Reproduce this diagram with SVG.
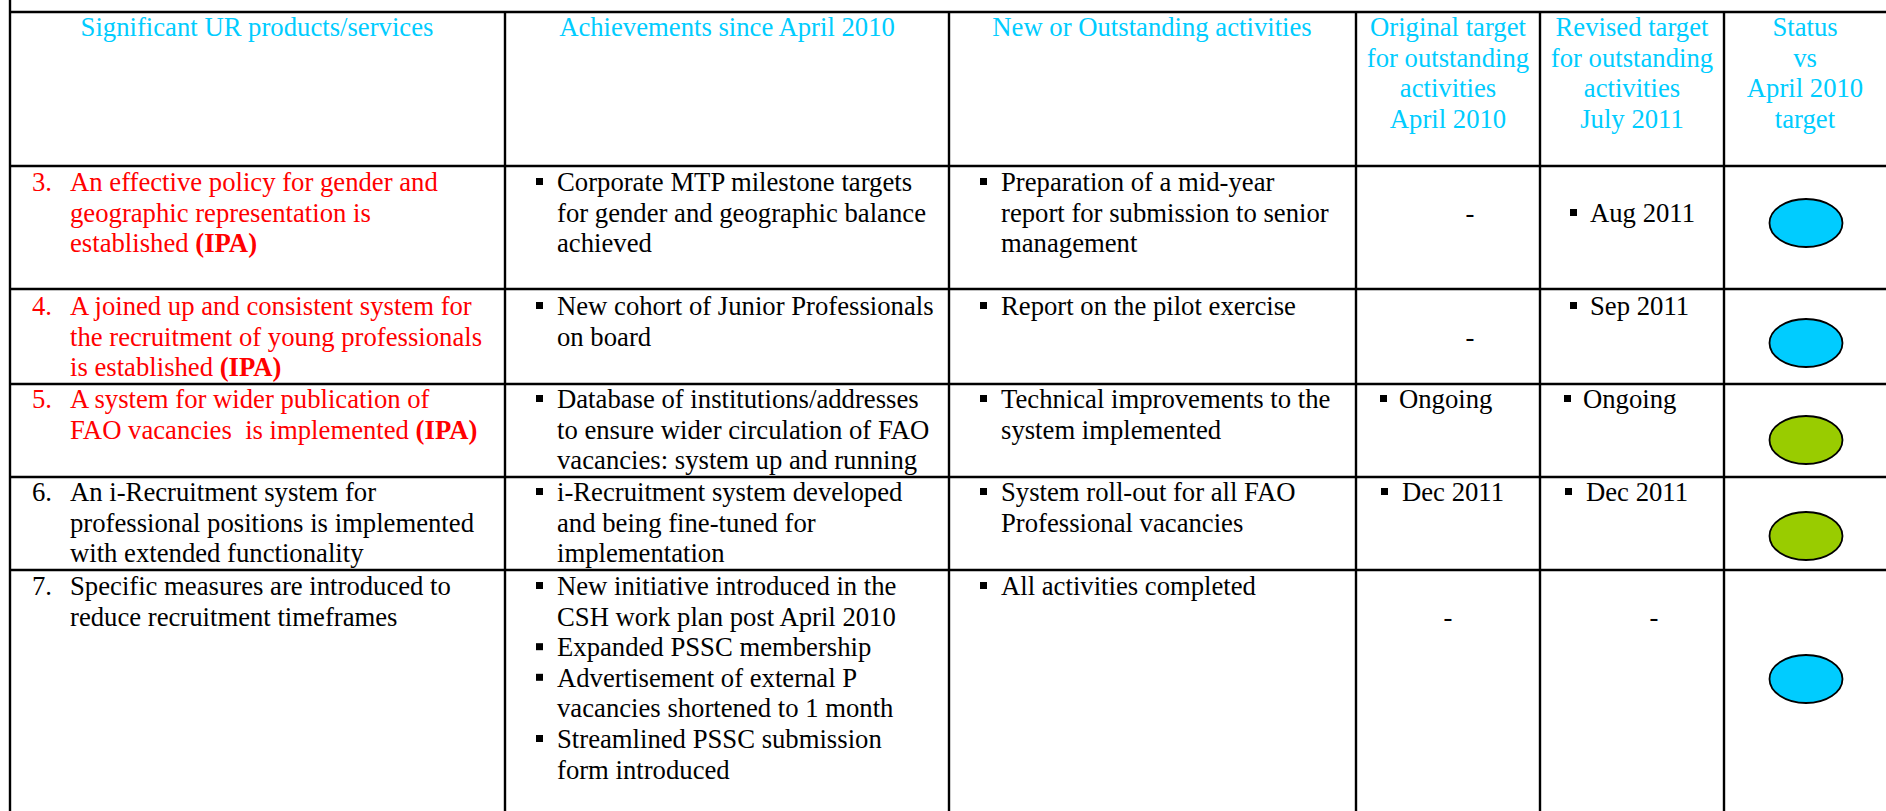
<svg xmlns="http://www.w3.org/2000/svg" width="1886" height="811" viewBox="0 0 1886 811">
<style>
text{font-family:"Liberation Serif","Times New Roman",serif;font-size:26.7px;fill:#000}
.h{fill:#00CCFF;text-anchor:middle}
.r{fill:#FF0000}
.b{font-weight:bold}
.m{text-anchor:middle}
.ln{stroke:#000;stroke-width:2.4;fill:none}
.blue{fill:#00CCFF;stroke:#000;stroke-width:1.8}
.green{fill:#99CC00;stroke:#000;stroke-width:1.8}
</style>
<defs>
<rect id="bul" x="0" y="-13" width="7" height="7" fill="#000"/>
</defs>
<rect width="1886" height="811" fill="#fff"/>
<g id="grid">
<line class="ln" x1="10" y1="0" x2="10" y2="811"/>
<line class="ln" x1="505" y1="12" x2="505" y2="811"/>
<line class="ln" x1="949" y1="12" x2="949" y2="811"/>
<line class="ln" x1="1356" y1="12" x2="1356" y2="811"/>
<line class="ln" x1="1540" y1="12" x2="1540" y2="811"/>
<line class="ln" x1="1724" y1="12" x2="1724" y2="811"/>
<line class="ln" x1="10" y1="12" x2="1886" y2="12"/>
<line class="ln" x1="10" y1="166" x2="1886" y2="166"/>
<line class="ln" x1="10" y1="289" x2="1886" y2="289"/>
<line class="ln" x1="10" y1="384" x2="1886" y2="384"/>
<line class="ln" x1="10" y1="477" x2="1886" y2="477"/>
<line class="ln" x1="10" y1="570" x2="1886" y2="570"/>
</g>
<g id="header">
<text class="h" x="257" y="36">Significant UR products/services</text>
<text class="h" x="727" y="36">Achievements since April 2010</text>
<text class="h" x="1152" y="36">New or Outstanding activities</text>
<text class="h" x="1448" y="36">Original target</text>
<text class="h" x="1448" y="66.6">for outstanding</text>
<text class="h" x="1448" y="97.2">activities</text>
<text class="h" x="1448" y="127.8">April 2010</text>
<text class="h" x="1632" y="36">Revised target</text>
<text class="h" x="1632" y="66.6">for outstanding</text>
<text class="h" x="1632" y="97.2">activities</text>
<text class="h" x="1632" y="127.8">July 2011</text>
<text class="h" x="1805" y="36">Status</text>
<text class="h" x="1805" y="66.6">vs</text>
<text class="h" x="1805" y="97.2">April 2010</text>
<text class="h" x="1805" y="127.8">target</text>
</g>
<g id="row3">
<text class="r" x="32" y="191">3.</text>
<text class="r" x="70" y="191">An effective policy for gender and</text>
<text class="r" x="70" y="221.6">geographic representation is</text>
<text class="r" x="70" y="252.2">established <tspan class="b">(IPA)</tspan></text>
<use href="#bul" x="536" y="191"/>
<text x="557" y="191">Corporate MTP milestone targets</text>
<text x="557" y="221.6">for gender and geographic balance</text>
<text x="557" y="252.2">achieved</text>
<use href="#bul" x="980" y="191"/>
<text x="1001" y="191">Preparation of a mid-year</text>
<text x="1001" y="221.6">report for submission to senior</text>
<text x="1001" y="252.2">management</text>
<text class="m" x="1470" y="222">-</text>
<use href="#bul" x="1570" y="222"/>
<text x="1590" y="222">Aug 2011</text>
<ellipse class="blue" cx="1806" cy="223" rx="36.5" ry="24"/>
</g>
<g id="row4">
<text class="r" x="32" y="315">4.</text>
<text class="r" x="70" y="315">A joined up and consistent system for</text>
<text class="r" x="70" y="345.6">the recruitment of young professionals</text>
<text class="r" x="70" y="376.2">is established <tspan class="b">(IPA)</tspan></text>
<use href="#bul" x="536" y="315"/>
<text x="557" y="315">New cohort of Junior Professionals</text>
<text x="557" y="345.6">on board</text>
<use href="#bul" x="980" y="315"/>
<text x="1001" y="315">Report on the pilot exercise</text>
<text class="m" x="1470" y="346">-</text>
<use href="#bul" x="1570" y="315"/>
<text x="1590" y="315">Sep 2011</text>
<ellipse class="blue" cx="1806" cy="343" rx="36.5" ry="24"/>
</g>
<g id="row5">
<text class="r" x="32" y="408">5.</text>
<text class="r" x="70" y="408">A system for wider publication of</text>
<text class="r" x="70" y="438.6" xml:space="preserve">FAO vacancies  is implemented <tspan class="b">(IPA)</tspan></text>
<use href="#bul" x="536" y="408"/>
<text x="557" y="408">Database of institutions/addresses</text>
<text x="557" y="438.6">to ensure wider circulation of FAO</text>
<text x="557" y="469.2">vacancies: system up and running</text>
<use href="#bul" x="980" y="408"/>
<text x="1001" y="408">Technical improvements to the</text>
<text x="1001" y="438.6">system implemented</text>
<use href="#bul" x="1380" y="408"/>
<text x="1399" y="408">Ongoing</text>
<use href="#bul" x="1564" y="408"/>
<text x="1583" y="408">Ongoing</text>
<ellipse class="green" cx="1806" cy="440" rx="36.5" ry="24"/>
</g>
<g id="row6">
<text x="32" y="501">6.</text>
<text x="70" y="501">An i-Recruitment system for</text>
<text x="70" y="531.6">professional positions is implemented</text>
<text x="70" y="562.2">with extended functionality</text>
<use href="#bul" x="536" y="501"/>
<text x="557" y="501">i-Recruitment system developed</text>
<text x="557" y="531.6">and being fine-tuned for</text>
<text x="557" y="562.2">implementation</text>
<use href="#bul" x="980" y="501"/>
<text x="1001" y="501">System roll-out for all FAO</text>
<text x="1001" y="531.6">Professional vacancies</text>
<use href="#bul" x="1381" y="501"/>
<text x="1402" y="501">Dec 2011</text>
<use href="#bul" x="1565" y="501"/>
<text x="1586" y="501">Dec 2011</text>
<ellipse class="green" cx="1806" cy="536" rx="36.5" ry="24"/>
</g>
<g id="row7">
<text x="32" y="595">7.</text>
<text x="70" y="595">Specific measures are introduced to</text>
<text x="70" y="625.6">reduce recruitment timeframes</text>
<use href="#bul" x="536" y="595"/>
<text x="557" y="595">New initiative introduced in the</text>
<text x="557" y="625.6">CSH work plan post April 2010</text>
<use href="#bul" x="536" y="656.2"/>
<text x="557" y="656.2">Expanded PSSC membership</text>
<use href="#bul" x="536" y="686.8"/>
<text x="557" y="686.8">Advertisement of external P</text>
<text x="557" y="717.4">vacancies shortened to 1 month</text>
<use href="#bul" x="536" y="748"/>
<text x="557" y="748">Streamlined PSSC submission</text>
<text x="557" y="778.6">form introduced</text>
<use href="#bul" x="980" y="595"/>
<text x="1001" y="595">All activities completed</text>
<text class="m" x="1448" y="626">-</text>
<text class="m" x="1654" y="626">-</text>
<ellipse class="blue" cx="1806" cy="679" rx="36.5" ry="24"/>
</g>
</svg>
